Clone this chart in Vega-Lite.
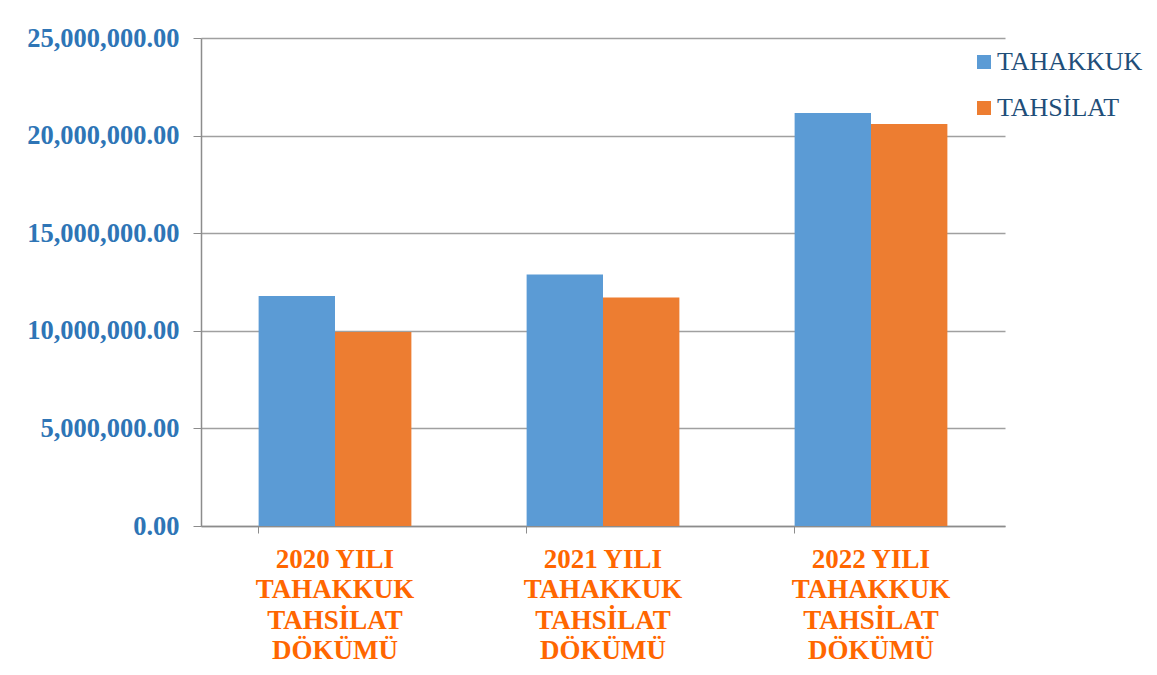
{
  "$schema": "https://vega.github.io/schema/vega-lite/v6.json",
  "autosize": {"type": "none"},
  "width": 804,
  "height": 488,
  "padding": {"left": 201, "top": 38, "right": 152, "bottom": 149},
  "background": "white",
  "config": {
    "view": {"stroke": null},
    "font": "'Times New Roman', 'Liberation Serif', serif"
  },
  "data": {
    "values": [
      {"yil": "2020 YILI|TAHAKKUK|TAHSİLAT|DÖKÜMÜ", "seri": "TAHAKKUK", "tutar": 11780000},
      {"yil": "2020 YILI|TAHAKKUK|TAHSİLAT|DÖKÜMÜ", "seri": "TAHSİLAT", "tutar": 9940000},
      {"yil": "2021 YILI|TAHAKKUK|TAHSİLAT|DÖKÜMÜ", "seri": "TAHAKKUK", "tutar": 12890000},
      {"yil": "2021 YILI|TAHAKKUK|TAHSİLAT|DÖKÜMÜ", "seri": "TAHSİLAT", "tutar": 11700000},
      {"yil": "2022 YILI|TAHAKKUK|TAHSİLAT|DÖKÜMÜ", "seri": "TAHAKKUK", "tutar": 21160000},
      {"yil": "2022 YILI|TAHAKKUK|TAHSİLAT|DÖKÜMÜ", "seri": "TAHSİLAT", "tutar": 20590000}
    ]
  },
  "mark": {"type": "bar"},
  "encoding": {
    "x": {
      "field": "yil",
      "type": "nominal",
      "sort": null,
      "scale": {"paddingInner": 0.43, "paddingOuter": 0.215},
      "axis": {
        "title": null,
        "labelAngle": 0,
        "labelExpr": "split(datum.label, '|')",
        "labelFont": "'Times New Roman', 'Liberation Serif', serif",
        "labelFontWeight": "bold",
        "labelFontSize": 27,
        "labelColor": "#FF6600",
        "labelLineHeight": 30.5,
        "labelBaseline": "top",
        "labelPadding": 13,
        "bandPosition": 0,
        "tickSize": 7,
        "tickColor": "#8c8c8c",
        "domainColor": "#8c8c8c",
        "domainWidth": 1.5,
        "grid": false
      }
    },
    "xOffset": {"field": "seri", "type": "nominal", "scale": {"paddingInner": 0, "paddingOuter": 0}},
    "y": {
      "field": "tutar",
      "type": "quantitative",
      "scale": {"domain": [0, 25000000], "nice": false},
      "axis": {
        "title": null,
        "values": [0, 5000000, 10000000, 15000000, 20000000, 25000000],
        "format": ",.2f",
        "labelFont": "'Times New Roman', 'Liberation Serif', serif",
        "labelFontWeight": "bold",
        "labelFontSize": 26.5,
        "labelColor": "#2E75B6",
        "labelPadding": 14,
        "tickSize": 8,
        "tickColor": "#8c8c8c",
        "domainColor": "#8c8c8c",
        "domainWidth": 1.5,
        "gridColor": "#a0a0a0",
        "gridWidth": 1.5
      }
    },
    "color": {
      "field": "seri",
      "type": "nominal",
      "scale": {"domain": ["TAHAKKUK", "TAHSİLAT"], "range": ["#5B9BD5", "#ED7D31"]},
      "legend": {
        "title": null,
        "orient": "none",
        "legendX": 770,
        "legendY": 11,
        "symbolType": "square",
        "symbolSize": 196,
        "symbolStrokeWidth": 0,
        "labelFont": "'Times New Roman', 'Liberation Serif', serif",
        "labelFontSize": 26,
        "labelColor": "#1F4E79",
        "labelOffset": 0,
        "rowPadding": 20
      }
    }
  }
}
